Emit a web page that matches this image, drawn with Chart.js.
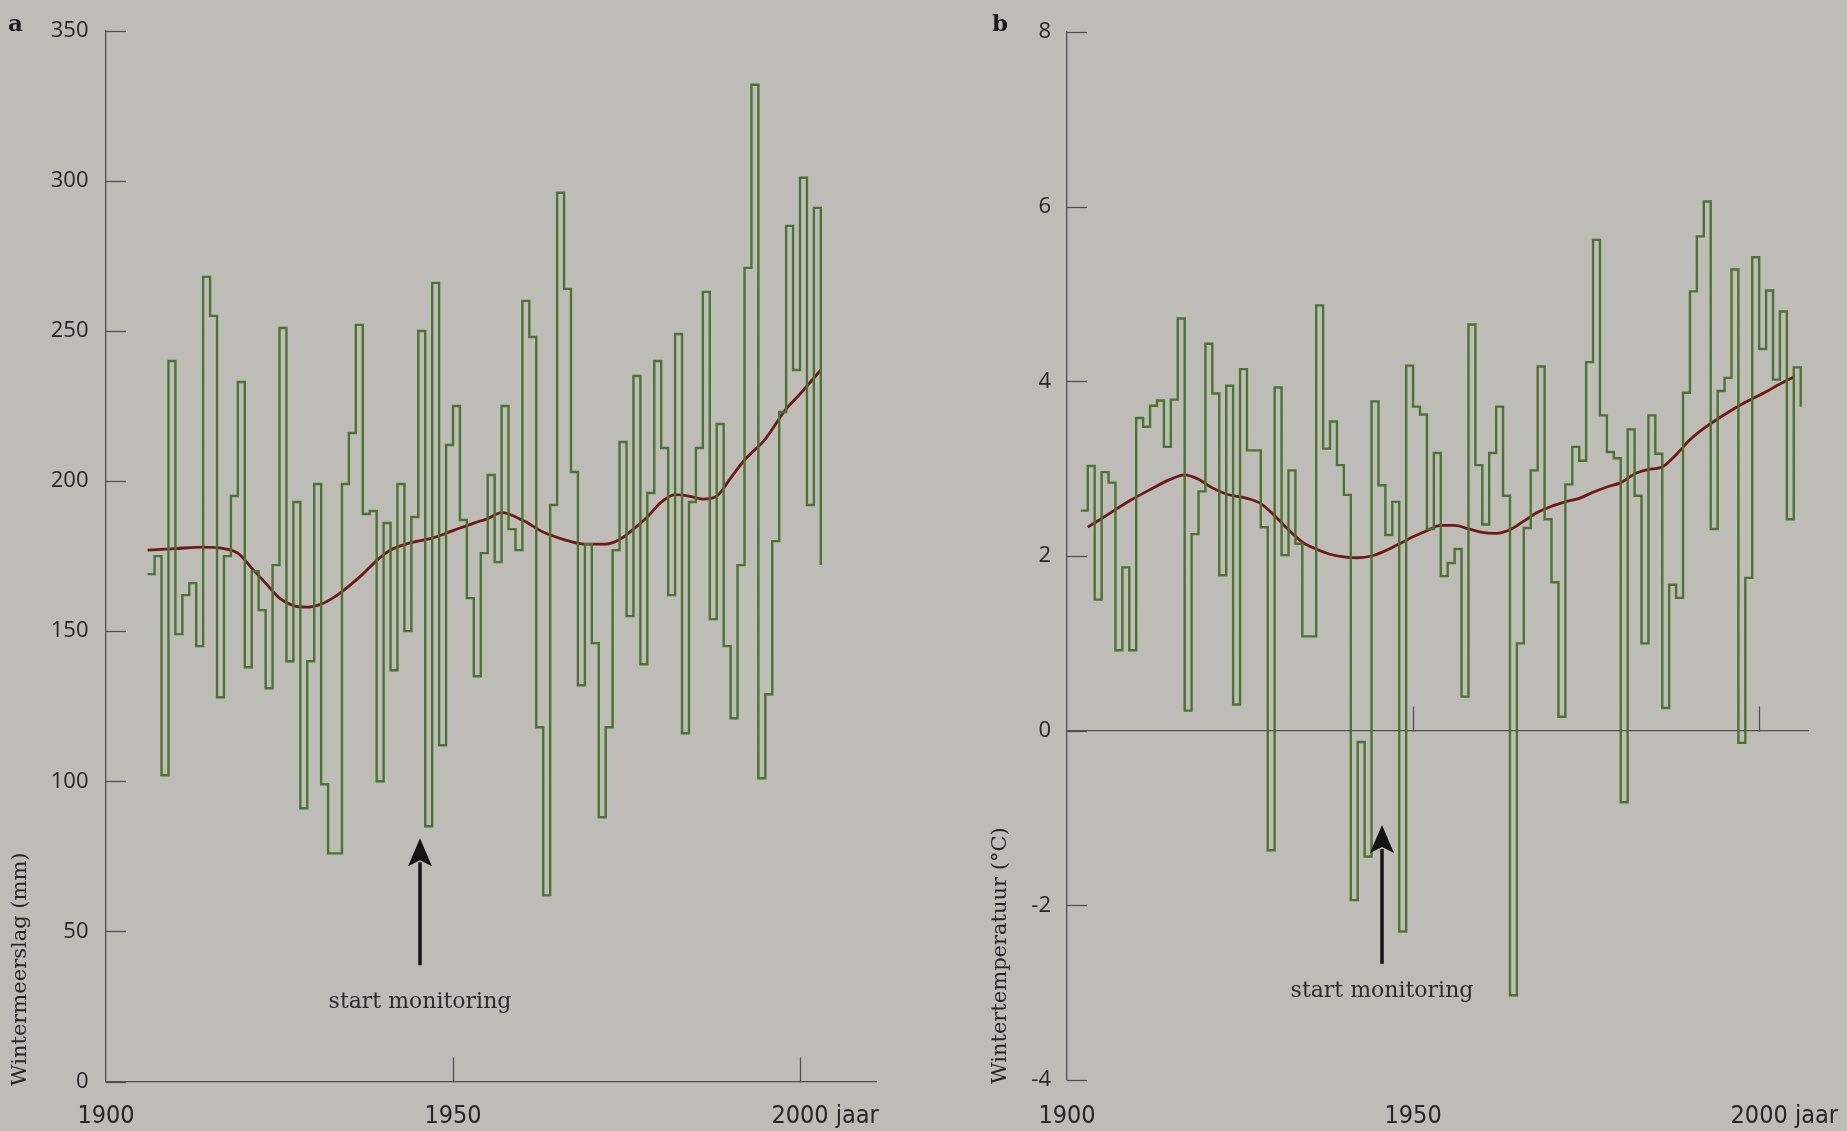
<!DOCTYPE html>
<html>
<head>
<meta charset="utf-8">
<script src="https://cdn.jsdelivr.net/npm/chart.js@4.4.1/dist/chart.umd.min.js"></script>
<style>
  html, body { margin: 0; padding: 0; background: #bebcb6; }
  body { width: 1847px; height: 1131px; position: relative; overflow: hidden; }
  canvas { position: absolute; top: 0; }
  #ca { left: 0; }
  #cb { left: 930px; }
</style>
</head>
<body>
<canvas id="ca" width="930" height="1131"></canvas>
<canvas id="cb" width="917" height="1131"></canvas>
<script>
// Winter precipitation (mm), one value per winter
const precipYears = [
  1906,1907,1908,1909,1910,1911,1912,1913,1914,1915,
  1916,1917,1918,1919,1920,1921,1922,1923,1924,1925,
  1926,1927,1928,1929,1930,1931,1932,1933,1934,1935,
  1936,1937,1938,1939,1940,1941,1942,1943,1944,1945,
  1946,1947,1948,1949,1950,1951,1952,1953,1954,1955,
  1956,1957,1958,1959,1960,1961,1962,1963,1964,1965,
  1966,1967,1968,1969,1970,1971,1972,1973,1974,1975,
  1976,1977,1978,1979,1980,1981,1982,1983,1984,1985,
  1986,1987,1988,1989,1990,1991,1992,1993,1994,1995,
  1996,1997,1998,1999,2000,2001,2002,2003
];
const precipValues = [
  169,175,102,240,149,162,166,145,268,255,
  128,175,195,233,138,170,157,131,172,251,
  140,193,91,140,199,99,76,76,199,216,
  252,189,190,100,186,137,199,150,188,250,
  85,266,112,212,225,187,161,135,176,202,
  173,225,184,177,260,248,118,62,192,296,
  264,203,132,179,146,88,118,177,213,155,
  235,139,196,240,211,162,249,116,193,211,
  263,154,219,145,121,172,271,332,101,129,
  180,223,285,237,301,192,291,172
];
// Smoothed precipitation trend
const trendAYears = [1906,1910,1914,1917,1919,1921,1923,1925,1927,1929,1931,1933,1935,1937,1939,1941,1944,1947,1950,1953,1955,1957,1960,1963,1966,1969,1972,1974,1976,1978,1980,1982,1984,1986,1988,1990,1992,1995,1998,2000,2003];
const trendAValues = [177,177.5,178,177.5,176,171,166,161,158.5,158,159,161.5,165,169,173.5,177,179.5,181,183.5,186,187.5,189.5,187,183,180.5,179,179,180.5,184,188,193,195.5,195,194,195,201,207,214,224,229,237];

// Winter temperature (°C), one value per winter
const tempYears = [
  1902,1903,1904,1905,1906,1907,1908,1909,1910,1911,
  1912,1913,1914,1915,1916,1917,1918,1919,1920,1921,
  1922,1923,1924,1925,1926,1927,1928,1929,1930,1931,
  1932,1933,1934,1935,1936,1937,1938,1939,1940,1941,
  1942,1943,1944,1945,1946,1947,1948,1949,1950,1951,
  1952,1953,1954,1955,1956,1957,1958,1959,1960,1961,
  1962,1963,1964,1965,1966,1967,1968,1969,1970,1971,
  1972,1973,1974,1975,1976,1977,1978,1979,1980,1981,
  1982,1983,1984,1985,1986,1987,1988,1989,1990,1991,
  1992,1993,1994,1995,1996,1997,1998,1999,2000,2001,
  2002,2003,2004,2005,2006
];
const tempValues = [
  2.52,3.03,1.50,2.96,2.84,0.92,1.87,0.92,3.58,3.48,
  3.72,3.78,3.25,3.79,4.72,0.23,2.25,2.74,4.43,3.86,
  1.78,3.95,0.30,4.14,3.21,3.21,2.33,-1.37,3.93,2.01,
  2.98,2.14,1.08,1.08,4.87,3.23,3.54,3.04,2.70,-1.94,
  -0.13,-1.44,3.77,2.81,2.24,2.62,-2.30,4.18,3.71,3.62,
  2.31,3.18,1.77,1.92,2.08,0.39,4.65,3.04,2.36,3.18,
  3.71,2.69,-3.03,1.00,2.32,2.98,4.17,2.42,1.70,0.16,
  2.82,3.25,3.09,4.22,5.62,3.61,3.19,3.12,-0.82,3.45,
  2.69,1.00,3.61,3.17,0.26,1.67,1.52,3.87,5.03,5.66,
  6.06,2.31,3.89,4.04,5.28,-0.14,1.75,5.42,4.37,5.04,
  4.02,4.80,2.42,4.16,3.71
];
// Smoothed temperature trend
const trendBYears = [1903,1906,1909,1912,1915,1917,1919,1921,1923,1926,1928,1930,1932,1934,1936,1938,1940,1942,1944,1946,1948,1950,1952,1954,1956,1958,1960,1962,1964,1966,1968,1970,1972,1974,1976,1978,1980,1982,1984,1986,1988,1990,1992,1995,1998,2001,2003,2005];
const trendBValues = [2.33,2.48,2.63,2.76,2.88,2.93,2.88,2.78,2.71,2.66,2.6,2.46,2.3,2.16,2.08,2.02,1.99,1.98,2.0,2.06,2.14,2.22,2.29,2.35,2.35,2.31,2.27,2.26,2.3,2.4,2.5,2.57,2.62,2.66,2.73,2.79,2.84,2.94,2.99,3.02,3.16,3.33,3.46,3.62,3.76,3.88,3.97,4.05];

// Axis tick labels
const yearTicks = [1900, 1950, 2000];
const yearTickMarks = [1950, 2000];
const unitLabel = 'jaar';

const GREEN = '#4b7332';
const RED = '#6e1914';
const AXIS = '#505050';
const TEXT = '#262626';
const TICK_FONT = "'Open Sans', 'DejaVu Sans', sans-serif";
const YEAR_FONT = "'Liberation Sans Narrow', 'DejaVu Sans Condensed', sans-serif";
const SERIF = "'DejaVu Serif', 'Liberation Serif', serif";

const pts = (xs, ys) => xs.map((x, i) => ({ x, y: ys[i] }));

// Draws inward tick marks, year labels, axis title, panel letter and the monitoring arrow
const framePlugin = {
  id: 'frame',
  afterDraw(chart, args, o) {
    const { ctx, chartArea: a, scales: { x, y } } = chart;
    ctx.save();
    ctx.strokeStyle = AXIS;
    ctx.lineWidth = 1.3;
    y.ticks.forEach(t => {
      const py = Math.round(y.getPixelForValue(t.value)) + 0.5;
      ctx.beginPath(); ctx.moveTo(a.left, py); ctx.lineTo(a.left + o.tickLen, py); ctx.stroke();
    });
    const base = Math.round(y.getPixelForValue(0)) + 0.5;
    yearTickMarks.forEach(v => {
      const px = Math.round(x.getPixelForValue(v)) + 0.5;
      ctx.beginPath(); ctx.moveTo(px, base); ctx.lineTo(px, base - o.xTickLen); ctx.stroke();
    });

    // year labels
    ctx.fillStyle = TEXT;
    ctx.font = `25px ${YEAR_FONT}`;
    ctx.textBaseline = 'middle';
    x.ticks.forEach((t, i) => {
      const px = x.getPixelForValue(t.value);
      const s = String(t.value);
      ctx.textAlign = 'center';
      ctx.fillText(s, px, o.yearLabelY);
      if (i === x.ticks.length - 1) {
        const w = ctx.measureText(s).width;
        ctx.textAlign = 'left';
        ctx.fillText(' ' + unitLabel, px + w / 2, o.yearLabelY);
      }
    });

    // axis title, rotated
    ctx.save();
    ctx.translate(o.titleX, o.titleY);
    ctx.rotate(-Math.PI / 2);
    ctx.font = `21px ${SERIF}`;
    ctx.textAlign = 'left';
    ctx.textBaseline = 'middle';
    ctx.fillStyle = TEXT;
    ctx.fillText(o.title, 0, 0);
    ctx.restore();

    // panel letter
    ctx.font = `bold 23px ${SERIF}`;
    ctx.textAlign = 'left';
    ctx.textBaseline = 'alphabetic';
    ctx.fillStyle = '#1a1a1a';
    ctx.fillText(o.letter, o.letterX, o.letterY);

    // start of monitoring arrow
    const m = o.marker;
    const ax = Math.round(x.getPixelForValue(m.year));
    const tip = y.getPixelForValue(m.tip);
    const tail = y.getPixelForValue(m.tail);
    const hl = 28, hw = 24;
    ctx.strokeStyle = '#141414';
    ctx.fillStyle = '#141414';
    ctx.lineWidth = 3.5;
    ctx.beginPath(); ctx.moveTo(ax, tail); ctx.lineTo(ax, tip + hl - 4); ctx.stroke();
    ctx.beginPath();
    ctx.moveTo(ax, tip);
    ctx.lineTo(ax - hw / 2, tip + hl);
    ctx.lineTo(ax, tip + hl - 6);
    ctx.lineTo(ax + hw / 2, tip + hl);
    ctx.closePath();
    ctx.fill();
    ctx.font = `22px ${SERIF}`;
    ctx.fillStyle = '#2b2b2b';
    ctx.textAlign = 'center';
    ctx.textBaseline = 'alphabetic';
    ctx.fillText(m.text, ax, y.getPixelForValue(m.textAt));
    ctx.restore();
  }
};

function makeChart(id, cfg) {
  return new Chart(document.getElementById(id), {
    type: 'line',
    data: {
      datasets: [
        { data: cfg.steps, borderColor: GREEN, borderWidth: 2.4, stepped: 'before',
          pointRadius: 0, fill: false, borderJoinStyle: 'miter', borderCapStyle: 'butt' },
        { data: cfg.trend, borderColor: RED, borderWidth: 2.8, tension: 0.4,
          cubicInterpolationMode: 'monotone', pointRadius: 0, fill: false }
      ]
    },
    options: {
      responsive: false,
      animation: false,
      devicePixelRatio: 1,
      layout: { padding: cfg.padding },
      plugins: { legend: { display: false }, tooltip: { enabled: false }, frame: cfg.frame },
      scales: {
        x: {
          type: 'linear', min: 1900, max: cfg.xMax,
          afterFit: s => { s.height = cfg.xHeight; },
          afterBuildTicks: s => { s.ticks = yearTicks.map(v => ({ value: v })); },
          grid: { display: false, drawTicks: false },
          border: { display: cfg.xBorder, color: AXIS, width: 1.3 },
          ticks: { display: false }
        },
        y: {
          min: cfg.yMin, max: cfg.yMax,
          afterFit: s => { s.width = cfg.yWidth; },
          ticks: { stepSize: cfg.yStep, padding: cfg.yPad, color: TEXT, font: { family: TICK_FONT, size: 22 } },
          grid: {
            display: cfg.zeroLine, drawTicks: false, lineWidth: 1.2,
            color: c => (c.tick && c.tick.value === 0) ? AXIS : 'rgba(0,0,0,0)'
          },
          border: { display: true, color: AXIS, width: 1.3 }
        }
      }
    },
    plugins: [framePlugin]
  });
}

makeChart('ca', {
  steps: pts(precipYears, precipValues),
  trend: pts(trendAYears, trendAValues),
  padding: { top: 27, right: 54, left: 0, bottom: 0 },
  xMax: 2010.95, xHeight: 49.5, xBorder: true,
  yMin: 0, yMax: 350, yStep: 50, yWidth: 106, yPad: 17.5, zeroLine: false,
  frame: {
    tickLen: 20, xTickLen: 25, yearLabelY: 1116,
    title: 'Wintermeerslag (mm)', titleX: 21, titleY: 1086,
    letter: 'a', letterX: 8, letterY: 31,
    marker: { year: 1945.2, tip: 81, tail: 38.7, textAt: 24.4, text: 'start monitoring' }
  }
});

makeChart('cb', {
  steps: pts(tempYears, tempValues),
  trend: pts(trendBYears, trendBValues),
  padding: { top: 32, right: 38, left: 0, bottom: 0 },
  xMax: 2007.2, xHeight: 51, xBorder: false,
  yMin: -4, yMax: 8, yStep: 2, yWidth: 137, yPad: 16, zeroLine: true,
  frame: {
    tickLen: 20, xTickLen: 25, yearLabelY: 1116,
    title: 'Wintertemperatuur (°C)', titleX: 71, titleY: 1084,
    letter: 'b', letterX: 62, letterY: 31,
    marker: { year: 1945.5, tip: -1.08, tail: -2.67, textAt: -3.05, text: 'start monitoring' }
  }
});
</script>
</body>
</html>
